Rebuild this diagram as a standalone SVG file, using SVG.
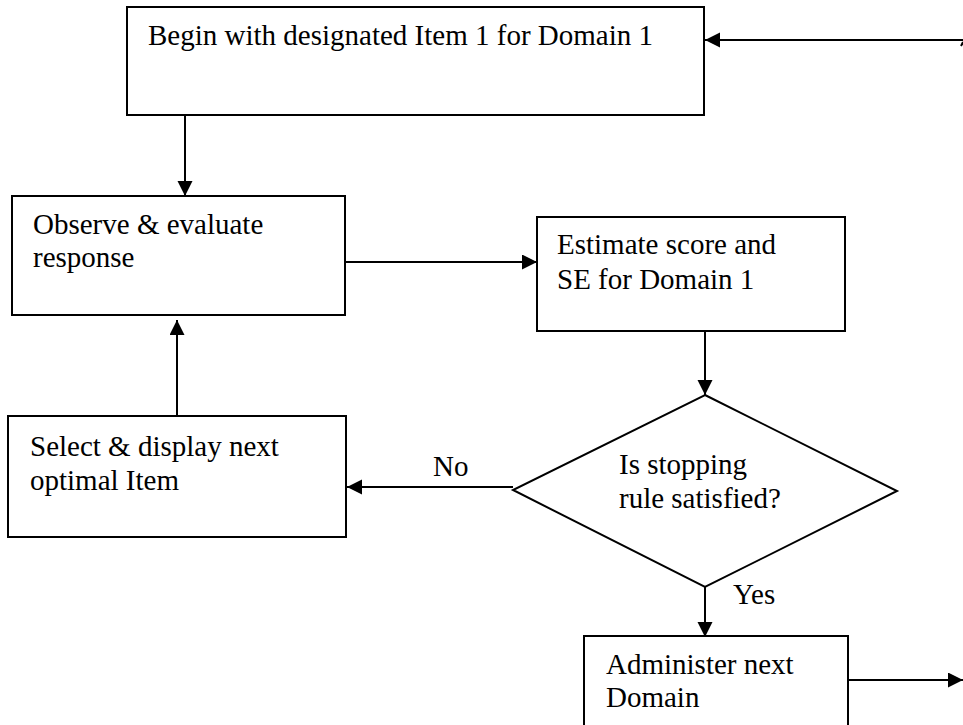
<svg xmlns="http://www.w3.org/2000/svg" width="963" height="725" viewBox="0 0 963 725">
<style>
.box{fill:#fff;stroke:#000;stroke-width:2}
.t{font-family:"Liberation Serif","Times New Roman","DejaVu Serif",serif;font-size:29px;fill:#000}
.c{fill:none;stroke:#000;stroke-width:2}
</style>
<defs>
<marker id="ah" markerUnits="userSpaceOnUse" markerWidth="16" markerHeight="16" refX="15" refY="7.5" orient="auto">
<path d="M0,0 L15,7.5 L0,15 z" fill="#000"/>
</marker>
</defs>
<rect width="963" height="725" fill="#fff"/>
<g id="connectors">
<line class="c" x1="963" y1="40" x2="705" y2="40" marker-end="url(#ah)"/>
<line class="c" x1="961" y1="46" x2="963" y2="42"/>
<line class="c" x1="185" y1="115" x2="185" y2="196" marker-end="url(#ah)"/>
<line class="c" x1="345" y1="262" x2="537" y2="262" marker-end="url(#ah)"/>
<line class="c" x1="705" y1="331" x2="705" y2="395" marker-end="url(#ah)"/>
<line class="c" x1="513" y1="487" x2="347" y2="487" marker-end="url(#ah)"/>
<line class="c" x1="177" y1="422" x2="177" y2="320" marker-end="url(#ah)"/>
<line class="c" x1="705" y1="587" x2="705" y2="637" marker-end="url(#ah)"/>
<line class="c" x1="848" y1="680" x2="963" y2="680" marker-end="url(#ah)"/>
<text class="t" x="433" y="476">No</text>
<text class="t" x="733" y="604">Yes</text>
</g>
<g id="begin">
<rect class="box" x="127" y="7" width="577" height="108"/>
<text class="t" x="148" y="45">Begin with designated Item 1 for Domain 1</text>
</g>
<g id="observe">
<rect class="box" x="12" y="196" width="333" height="119"/>
<text class="t" x="33" y="234">Observe &amp; evaluate</text>
<text class="t" x="33" y="267">response</text>
</g>
<g id="estimate">
<rect class="box" x="537" y="217" width="308" height="114"/>
<text class="t" x="557" y="254">Estimate score and</text>
<text class="t" x="557" y="289">SE for Domain 1</text>
</g>
<g id="decision">
<polygon class="box" points="705,395 897,491 705,587 513,490"/>
<text class="t" x="619" y="474">Is stopping</text>
<text class="t" x="619" y="508">rule satisfied?</text>
</g>
<g id="select">
<rect class="box" x="8" y="416" width="338" height="121"/>
<text class="t" x="30" y="456">Select &amp; display next</text>
<text class="t" x="30" y="490">optimal Item</text>
</g>
<g id="administer">
<rect class="box" x="584" y="636" width="264" height="110"/>
<text class="t" x="606" y="674">Administer next</text>
<text class="t" x="606" y="707">Domain</text>
</g>
</svg>
